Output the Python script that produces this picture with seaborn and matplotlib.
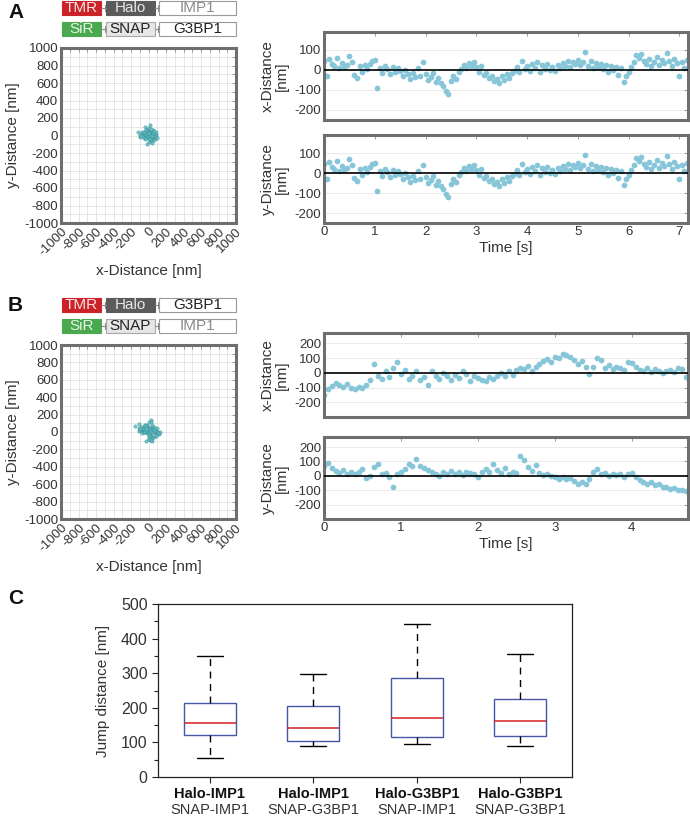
"""Two-colour single-particle tracking figure: distance traces and jump distances."""

import matplotlib
matplotlib.use("Agg")
import matplotlib.pyplot as plt
from matplotlib.lines import Line2D
from matplotlib.patches import Rectangle
from matplotlib.ticker import MultipleLocator
import numpy as np
import pandas as pd
import seaborn as sns

FRAME_DT = 0.05  # s between read-off points

# Panel A traces (nm); the x and y traces are the same in the source figure.
dist_x_a = [
    45, -30, 55, 30, 20, 60, 10, 35, 15, 25,
    70, 40, -25, -40, 20, -10, 25, 5, 30, 45,
    50, -90, 10, -15, 20, 5, -20, 15, -10, 10,
    -5, -30, 0, -20, -45, -15, -35, 10, -30, 40,
    -20, -50, -35, -15, -60, -40, -65, -80, -105, -120,
    -55, -30, -45, -10, 5, 25, 10, 35, 20, 40,
    15, -10, 20, -25, -15, -40, -30, -55, -45, -65,
    -30, -50, -20, -40, -15, -5, 15, -10, 45, 5,
    20, -5, 30, 10, 40, -10, 25, 5, 30, 0,
    15, -5, 25, 10, 35, 20, 45, 15, 40, 30,
    50, 25, 40, 90, 20, 45, 10, 35, 15, 30,
    5, 25, -10, 20, 0, 15, -25, 10, -60, -30,
    -10, 15, 40, 75, 60, 80, 45, 30, 55, 20,
    40, 65, 25, 50, 35, 85, 45, 20, 55, 35,
    -30, 40, 10, 50,
]
dist_y_a = list(dist_x_a)

# Panel B traces (nm)
dist_x_b = [
    -150, -110, -90, -70, -85, -95, -75, -100, -110, -95,
    -105, -80, -50, 60, -20, -40, 10, -30, 30, 70,
    -10, 20, -40, -20, 10, -50, -30, -85, 10, -25,
    -40, 0, -20, -50, -15, -35, 10, -10, -55, -20,
    -35, -50, -55, -30, -45, -20, 0, -25, 10, -15,
    20, 30, 25, 45, 15, 40, 60, 80, 95, 75,
    110, 100, 130, 120, 105, 90, 60, 80, 40, -10,
    40, 100, 90, 35, 50, 25, 40, 30, 20, 70,
    65, 40, 20, 15, 30, 5, 25, 10, 0, 15,
    20, 5, 35, 25, -30,
]
dist_y_b = [
    70, 90, 55, 35, 20, 40, 15, 25, 10, 30,
    50, -15, 0, 60, 84, 10, 20, -5, -80, 15,
    30, 50, 80, 65, 120, 70, 55, 40, 25, 15,
    0, 30, 15, 35, 10, 25, 5, 30, 20, 10,
    -5, 30, 45, 25, 80, 40, 20, 55, 10, 30,
    20, 140, 110, 60, 35, 75, 20, 5, 15, 0,
    -10, -20, -5, -25, -15, -35, -55, -45, -60, -20,
    25, 45, 10, 20, 0, 15, 5, 10, -5, 10,
    20, -10, -30, -45, -55, -40, -65, -60, -75, -80,
    -90, -85, -100, -95, -105,
]

# Panel A x/y localisation cloud (nm)
cloud_a_x = [
    -15, 8, 30, -35, 45, -55, 18, -8, 65, -45, 0, 38, -22, 50, -70,
    12, -30, 75, 22, -50, 58, -12, 32, -65, 5, 80, -85, 26, -18, 40,
    -120, 70, -40, 15, -95, 90, 55, -26, 0, -75, 48, 9, -55, 68, 22,
    -5, 36, -32, 85, -100, 14, -14, 60, -68, 28, 44, -90, 7, 95, -44,
]
cloud_a_y = [
    5, -15, 20, 30, -10, 10, 45, -30, 15, -25, 60, -40, 0, 35, 25,
    -55, 50, -5, -20, 40, -35, 70, 10, -10, 90, 20, 5, -60, 25, 55,
    40, -25, -45, 120, -15, 0, 30, 15, -70, 45, 60, -5, 35, -50, 8,
    25, -80, 65, 40, 10, -35, -100, 50, -20, 80, 0, -5, 30, -30, 100,
]

# Panel C jump distances (nm): whisker low, Q1, median, Q3, whisker high
pair_ids = ["p1", "p2", "p3", "p4"]
halo_labels = ["Halo-IMP1", "Halo-IMP1", "Halo-G3BP1", "Halo-G3BP1"]
snap_labels = ["SNAP-IMP1", "SNAP-G3BP1", "SNAP-IMP1", "SNAP-G3BP1"]
jump_low = [56, 90, 95, 90]
jump_q1 = [121, 104, 115, 118]
jump_median = [157, 143, 171, 162]
jump_q3 = [213, 205, 285, 224]
jump_high = [350, 299, 442, 355]

W, H = 690, 818
TEXT = "#333333"
FRAME = "#6e6e6e"
DOT = "#86c6d8"

sns.set_style("white")
plt.rcParams["font.family"] = ["Liberation Sans", "DejaVu Sans"]
plt.rcParams["text.color"] = TEXT
plt.rcParams["axes.labelcolor"] = TEXT
plt.rcParams["axes.unicode_minus"] = False


def px_axes(left, top, right, bottom):
    return [left / W, 1 - bottom / H, (right - left) / W, (bottom - top) / H]


def framed(ax):
    for spine in ax.spines.values():
        spine.set_color(FRAME)
        spine.set_linewidth(2.2)
    ax.tick_params(
        which="both", direction="in", length=3, width=0.6, color="#8a8a8a",
        top=True, right=True, labelsize=9.5, labelcolor=TEXT, pad=2,
    )
    ax.set_axisbelow(True)


def tag(fig, x0, x1, y0, y1, text, face, fg, edge):
    fig.add_artist(Rectangle(
        (x0 / W, 1 - y1 / H), (x1 - x0) / W, (y1 - y0) / H,
        transform=fig.transFigure, facecolor=face, edgecolor=edge, lw=0.8,
    ))
    fig.text((x0 + x1) / 2 / W, 1 - (y0 + y1) / 2 / H, text, color=fg,
             fontsize=11, ha="center", va="center")


def link(fig, x0, x1, y):
    yy = 1 - y / H
    fig.add_artist(Line2D([x0 / W, x1 / W], [yy, yy], transform=fig.transFigure,
                          color="#8a8a8a", lw=0.8))
    fig.add_artist(Line2D([x1 / W - 1.5 / W] * 2, [yy - 3 / H, yy + 3 / H],
                          transform=fig.transFigure, color="#8a8a8a", lw=0.8))


def construct_header(fig, top, first, second):
    r1, r2 = (top, top + 14), (top + 21, top + 35)
    tag(fig, 62, 101, *r1, "TMR", "#cc2229", "#f6e2e2", "#cc2229")
    tag(fig, 106, 155, *r1, "Halo", "#5b5b5b", "#e6e6e6", "#5b5b5b")
    tag(fig, 62, 101, *r2, "SiR", "#4aa84e", "#e6f4e6", "#4aa84e")
    tag(fig, 106, 155, *r2, "SNAP", "#e6e6e6", "#222222", "#a8a8a8")
    for label, rows in ((first, r1), (second, r2)):
        fg = "#8a8a8a" if label == "IMP1" else "#222222"
        tag(fig, 159, 236, *rows, label, "white", fg, "#9a9a9a")
    for rows in (r1, r2):
        mid = (rows[0] + rows[1]) / 2
        link(fig, 101, 106, mid)
        link(fig, 155, 159, mid)


def cloud_panel(ax, xs, ys):
    sns.scatterplot(x=xs, y=ys, ax=ax, color="#63b9c0", edgecolor="#2f8d93",
                    s=6, linewidth=0.3, alpha=0.85, legend=False, zorder=3)
    ax.set_xlim(-1000, 1000)
    ax.set_ylim(-1000, 1000)
    for axis in (ax.xaxis, ax.yaxis):
        axis.set_major_locator(MultipleLocator(200))
        axis.set_minor_locator(MultipleLocator(100))
    ax.grid(which="both", color="#e2e2e2", lw=0.6)
    framed(ax)
    plt.setp(ax.get_xticklabels(), rotation=45, ha="right", rotation_mode="anchor")
    ax.set_xlabel("x-Distance [nm]", fontsize=11, labelpad=4)
    ax.set_ylabel("y-Distance [nm]", fontsize=11, labelpad=3)


def trace_panel(ax, values, label, ylim, yticks, tmax, show_time):
    time = np.arange(len(values)) * FRAME_DT
    sns.scatterplot(x=time, y=values, ax=ax, color=DOT, s=17, linewidth=0,
                    legend=False, zorder=2)
    ax.axhline(0, color="black", lw=1.2, zorder=3)
    ax.set_xlim(0, tmax)
    ax.set_ylim(*ylim)
    ax.set_yticks(yticks)
    ax.set_xticks(range(int(tmax) + 1))
    ax.grid(axis="y", color="#e6e6e6", lw=0.6)
    framed(ax)
    ax.set_ylabel(label, fontsize=11, linespacing=1.0, labelpad=4)
    if show_time:
        ax.set_xlabel("Time [s]", fontsize=11, labelpad=2)
    else:
        ax.tick_params(labelbottom=False)
        ax.set_xlabel("")


fig = plt.figure(figsize=(W / 100, H / 100), dpi=100)

# Panel A
fig.text(8 / W, 1 - 12 / H, "A", fontsize=15, fontweight="bold", color="#111111", va="center")
construct_header(fig, 1, "IMP1", "G3BP1")
cloud_panel(fig.add_axes(px_axes(61, 48, 236, 223)), cloud_a_x, cloud_a_y)
ticks_a = [-200, -100, 0, 100]
trace_panel(fig.add_axes(px_axes(324, 32, 688, 120)), dist_x_a, "x-Distance\n[nm]",
            (-250, 190), ticks_a, 7.17, False)
trace_panel(fig.add_axes(px_axes(324, 135, 688, 223)), dist_y_a, "y-Distance\n[nm]",
            (-250, 190), ticks_a, 7.17, True)

# Panel B
fig.text(8 / W, 1 - 305 / H, "B", fontsize=15, fontweight="bold", color="#111111", va="center")
construct_header(fig, 298, "G3BP1", "IMP1")
cloud_panel(fig.add_axes(px_axes(61, 345, 236, 519)), dist_x_b, dist_y_b)
ticks_b = [-200, -100, 0, 100, 200]
trace_panel(fig.add_axes(px_axes(324, 333, 688, 417)), dist_x_b, "x-Distance\n[nm]",
            (-300, 270), ticks_b, 4.73, False)
trace_panel(fig.add_axes(px_axes(324, 437, 688, 519)), dist_y_b, "y-Distance\n[nm]",
            (-300, 270), ticks_b, 4.73, True)

# Panel C
fig.text(8 / W, 1 - 598 / H, "C", fontsize=15, fontweight="bold", color="#111111", va="center")
jumps = pd.DataFrame({
    "pair": np.repeat(pair_ids, 5),
    "jump": np.column_stack([jump_low, jump_q1, jump_median, jump_q3, jump_high]).ravel(),
})
ax_c = fig.add_axes(px_axes(158, 604, 572, 777))
sns.boxplot(
    data=jumps, x="pair", y="jump", ax=ax_c, whis=(0, 100), width=0.5,
    color="white", linecolor="#4556a6", linewidth=1.0, showfliers=False,
    whiskerprops=dict(color="black", linestyle=(0, (5, 4)), linewidth=1.0),
    capprops=dict(color="black", linewidth=1.0),
    medianprops=dict(color="#d42020", linewidth=1.1),
)
ax_c.set_ylim(0, 500)
ax_c.set_xlim(-0.5, 3.5)
ax_c.yaxis.set_major_locator(MultipleLocator(100))
ax_c.yaxis.set_minor_locator(MultipleLocator(50))
for spine in ax_c.spines.values():
    spine.set_visible(True)
    spine.set_color("#222222")
    spine.set_linewidth(0.9)
ax_c.tick_params(which="both", direction="out", color="#222222", width=0.8, left=True, bottom=True)
ax_c.tick_params(which="major", length=4, labelsize=11.5, labelcolor=TEXT)
ax_c.tick_params(which="minor", length=3)
ax_c.set_xticks(range(len(pair_ids)))
ax_c.set_xticklabels(halo_labels, fontweight="bold", fontsize=10.5, color="#111111")
for i, label in enumerate(snap_labels):
    ax_c.annotate(label, xy=(i, 0), xycoords=ax_c.get_xaxis_transform(),
                  xytext=(0, -24), textcoords="offset points",
                  ha="center", va="center", fontsize=10.5, color=TEXT)
ax_c.set_xlabel("")
ax_c.set_ylabel("Jump distance [nm]", fontsize=11, labelpad=8)

fig.savefig("out.png", dpi=100)
